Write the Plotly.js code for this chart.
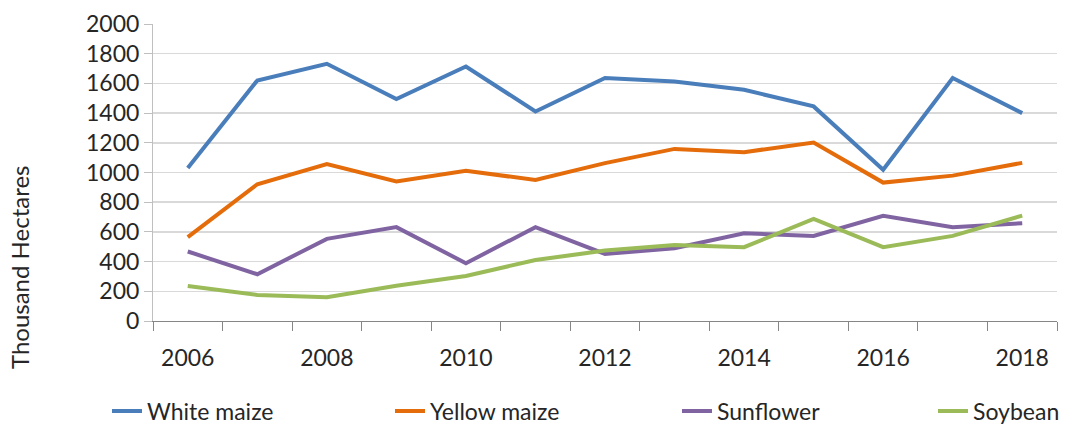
<!DOCTYPE html>
<html>
<head>
<meta charset="utf-8">
<script src="https://cdn.plot.ly/plotly-3.0.1.min.js"></script>
<style>html,body{margin:0;padding:0;background:#fff;}#chart{width:1072px;height:427px;}</style>
</head>
<body>
<div id="chart"></div>
<script>
const years = [2006,2007,2008,2009,2010,2011,2012,2013,2014,2015,2016,2017,2018];
const whiteMaize  = [1030,1620,1732,1494,1714,1411,1636,1613,1557,1445,1018,1636,1400];
const yellowMaize = [565,921,1056,939,1011,950,1063,1159,1137,1202,932,979,1065];
const sunflower   = [468,315,553,632,389,632,452,490,591,573,708,632,659];
const soybean     = [236,175,160,238,303,411,474,512,497,688,497,573,710];
const tickYears   = [2006,2008,2010,2012,2014,2016,2018];
const tickLabels  = ['2006','2008','2010','2012','2014','2016','2018'];
const seriesNames = ['White maize','Yellow maize','Sunflower','Soybean'];
const seriesColors = ['#4A7EBB','#E46C0A','#8064A2','#9BBB59'];
const seriesData = [whiteMaize, yellowMaize, sunflower, soybean];
const legendIds = ['legend','legend2','legend3','legend4'];
const legendTextX = [152,435,722,978];

const FONT = 'Lato, "Liberation Sans", sans-serif';

const traces = seriesData.map((d,i)=>({
  x: years, y: d, type:'scatter', mode:'lines', name: seriesNames[i],
  line:{color:seriesColors[i], width:4, shape:'linear'},
  legend: legendIds[i], hoverinfo:'skip'
}));

const layout = {
  width:1072, height:427,
  margin:{l:153, r:15, t:24, b:106},
  paper_bgcolor:'#fff', plot_bgcolor:'#fff',
  font:{family:FONT, size:23, color:'#262626'},
  xaxis:{
    range:[2005.5,2018.5], tickvals:tickYears, ticktext:tickLabels,
    ticks:'', showgrid:false, zeroline:false,
    showline:true, linecolor:'#868686', linewidth:1,
    ticklabelstandoff:16,
    tickfont:{family:FONT, size:23, color:'#262626'},
    minor:{tick0:2005.5, dtick:1, ticks:'outside', ticklen:9, tickcolor:'#868686', tickwidth:1, showgrid:false}
  },
  yaxis:{
    range:[0,2000], dtick:200, tick0:0,
    showgrid:true, gridcolor:'#D9D9D9', gridwidth:1.5, zeroline:false,
    showline:true, linecolor:'#BFBFBF', linewidth:1,
    ticks:'outside', ticklen:8, tickcolor:'#BFBFBF',
    tickfont:{family:FONT, size:23, color:'#262626'}
  },
  showlegend:true,
  annotations:[{
    text:'Thousand Hectares', xref:'paper', yref:'paper',
    x:-0.147, y:0.182, xanchor:'center', yanchor:'middle',
    textangle:-90, showarrow:false,
    font:{family:FONT, size:24, color:'#262626'}
  }]
};
legendIds.forEach((id,i)=>{
  layout[id] = {
    orientation:'h', xref:'container', yref:'container',
    x:(legendTextX[i]-45)/1072, y:16/427, xanchor:'left', yanchor:'middle',
    bgcolor:'rgba(0,0,0,0)', font:{family:FONT, size:23, color:'#262626'},
    itemwidth:30, entrywidth:190, entrywidthmode:'pixels'
  };
});

Plotly.newPlot('chart', traces, layout, {staticPlot:true, displayModeBar:false});
</script>
</body>
</html>
